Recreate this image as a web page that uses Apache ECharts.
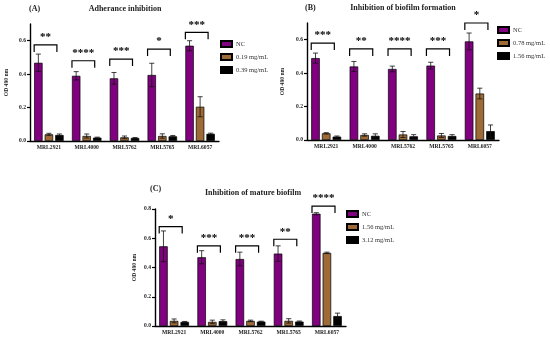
<!DOCTYPE html>
<html>
<head>
<meta charset="utf-8">
<script src="https://cdn.jsdelivr.net/npm/echarts@6/dist/echarts.min.js"></script>
<style>
html,body{margin:0;padding:0;background:#fff;}
#chart{width:550px;height:343px;}
</style>
</head>
<body>
<div id="chart"></div>
<script>
// ---- data ----
const categories = ['MRL2921', 'MRL4000', 'MRL5762', 'MRL5765', 'MRL6057'];

// Panel A: Adherance inhibition
const aNames = ['NC', '0.19 mg/mL', '0.39 mg/mL'];
const aNC = [0.468, 0.390, 0.375, 0.395, 0.570];
const aNCErr = [0.052, 0.025, 0.035, 0.070, 0.030];
const aLow = [0.040, 0.030, 0.022, 0.030, 0.205];
const aLowErr = [0.006, 0.012, 0.008, 0.013, 0.060];
const aHigh = [0.036, 0.020, 0.018, 0.028, 0.043];
const aHighErr = [0.006, 0.003, 0.003, 0.005, 0.004];
const aBracket = [0.575, 0.480, 0.490, 0.550, 0.650];
const aStars = ['**', '****', '***', '*', '***'];

// Panel B: Inhibition of biofilm formation
const bNames = ['NC', '0.78 mg/mL', '1.56 mg/mL'];
const bNC = [0.490, 0.440, 0.425, 0.445, 0.590];
const bNCErr = [0.030, 0.030, 0.017, 0.020, 0.050];
const bLow = [0.040, 0.030, 0.033, 0.027, 0.278];
const bLowErr = [0.004, 0.007, 0.018, 0.012, 0.032];
const bHigh = [0.020, 0.025, 0.022, 0.024, 0.053];
const bHighErr = [0.004, 0.012, 0.010, 0.008, 0.037];
const bBracket = [0.580, 0.545, 0.545, 0.545, 0.700];
const bStars = ['***', '**', '****', '***', '*'];

// Panel C: Inhibition of mature biofilm
const cNames = ['NC', '1.56 mg/mL', '3.12 mg/mL'];
const cNC = [0.545, 0.470, 0.458, 0.495, 0.768];
const cNCErr = [0.105, 0.045, 0.047, 0.053, 0.007];
const cLow = [0.035, 0.028, 0.035, 0.035, 0.500];
const cLowErr = [0.013, 0.012, 0.005, 0.015, 0.005];
const cHigh = [0.028, 0.033, 0.030, 0.030, 0.068];
const cHighErr = [0.003, 0.009, 0.003, 0.004, 0.020];
const cBracket = [0.680, 0.548, 0.548, 0.593, 0.820];
const cStars = ['*', '***', '***', '**', '****'];

const yTicksAB = [0, 0.2, 0.4, 0.6];
const yTicksC = [0, 0.2, 0.4, 0.6, 0.8];

// ---- styling ----
const FONT = 'Liberation Serif, Times New Roman, serif';
const colors = ['#800080', '#9E6A35', '#000000'];
const CAT_GAP = 0.22, BAR_GAP = 0.25;

const panels = [
  { id: 'A', names: aNames, vals: [aNC, aLow, aHigh], errs: [aNCErr, aLowErr, aHighErr],
    bracket: aBracket, stars: aStars, max: 0.7, ticks: yTicksAB,
    grid: { left: 30, top: 24, width: 189, height: 117 }, nameGap: 20,
    legend: { left: 220, top: 40 } },
  { id: 'B', names: bNames, vals: [bNC, bLow, bHigh], errs: [bNCErr, bLowErr, bHighErr],
    bracket: bBracket, stars: bStars, max: 0.7, ticks: yTicksAB,
    grid: { left: 307, top: 23, width: 192, height: 117 }, nameGap: 21,
    legend: { left: 497, top: 26 } },
  { id: 'C', names: cNames, vals: [cNC, cLow, cHigh], errs: [cNCErr, cLowErr, cHighErr],
    bracket: cBracket, stars: cStars, max: 0.8, ticks: yTicksC,
    grid: { left: 155, top: 209, width: 191, height: 117 }, nameGap: 17,
    legend: { left: 346, top: 210 } }
];

const grids = [], xAxes = [], yAxes = [], series = [], legends = [];

function barGeom(api) {
  const band = api.size([1, 0])[0];
  const w = band * (1 - CAT_GAP) / (3 + 2 * BAR_GAP);
  return { band, w };
}

panels.forEach((p, pi) => {
  grids.push(Object.assign({ containLabel: false }, p.grid));
  xAxes.push({
    type: 'category', gridIndex: pi, data: categories,
    axisLine: { lineStyle: { color: '#000', width: 1.4 } },
    axisTick: { alignWithLabel: true, length: 3, lineStyle: { color: '#000', width: 1.2 } },
    axisLabel: { fontFamily: FONT, fontWeight: 'bold', fontSize: 5.6, color: '#222', margin: 4 },
    splitLine: { show: false }
  });
  yAxes.push({
    type: 'value', gridIndex: pi, min: 0, max: p.max,
    name: 'OD 490 nm', nameLocation: 'middle', nameGap: p.nameGap, nameRotate: 90,
    nameTextStyle: { fontFamily: FONT, fontWeight: 'bold', fontSize: 5.6, color: '#222' },
    axisLine: { show: true, lineStyle: { color: '#000', width: 1.4 } },
    axisTick: { show: true, length: 3, customValues: p.ticks, lineStyle: { color: '#000', width: 1.2 } },
    axisLabel: { customValues: p.ticks, formatter: v => v.toFixed(1),
      fontFamily: FONT, fontWeight: 'bold', fontSize: 5.6, color: '#222', margin: 4 },
    splitLine: { show: false }
  });
  const legendData = [];
  p.names.forEach((nm, k) => {
    const sname = p.id + '|' + nm;
    legendData.push(sname);
    series.push({
      type: 'bar', name: sname, xAxisIndex: pi, yAxisIndex: pi,
      data: p.vals[k], barCategoryGap: (CAT_GAP * 100) + '%', barGap: (BAR_GAP * 100) + '%',
      itemStyle: { color: colors[k], borderColor: '#000', borderWidth: 0.7 },
      z: 2
    });
    // error bars
    series.push({
      type: 'custom', name: sname + ' err', xAxisIndex: pi, yAxisIndex: pi, z: 5, clip: false,
      data: p.vals[k].map((v, i) => [i, v, p.errs[k][i]]),
      renderItem: (params, api) => {
        const i = api.value(0), m = api.value(1), e = api.value(2);
        const g = barGeom(api);
        const off = (k - 1) * g.w * (1 + BAR_GAP);
        const t = api.coord([i, m + e]);
        const b = api.coord([i, Math.max(0, m - e)]);
        const x = t[0] + off;
        const cap = g.w * 0.3;
        const st = { stroke: '#111', lineWidth: 0.8, fill: null };
        return { type: 'group', children: [
          { type: 'line', shape: { x1: x, y1: t[1], x2: x, y2: b[1] }, style: st },
          { type: 'line', shape: { x1: x - cap, y1: t[1], x2: x + cap, y2: t[1] }, style: st },
          { type: 'line', shape: { x1: x - cap, y1: b[1], x2: x + cap, y2: b[1] }, style: st }
        ]};
      }
    });
  });
  // significance brackets
  series.push({
    type: 'custom', name: p.id + ' sig', xAxisIndex: pi, yAxisIndex: pi, z: 6, clip: false,
    data: p.bracket.map((v, i) => [i, v]),
    renderItem: (params, api) => {
      const i = api.value(0), lv = api.value(1);
      const g = barGeom(api);
      const c = api.coord([i, lv]);
      const x0 = c[0] - 1.75 * g.w, x1 = c[0] + 0.95 * g.w;
      const leg = 7;
      return { type: 'group', children: [
        { type: 'polyline', shape: { points: [[x0, c[1] + leg], [x0, c[1]], [x1, c[1]], [x1, c[1] + leg]] },
          style: { stroke: '#000', lineWidth: 1.2, fill: null } },
        { type: 'text', x: (x0 + x1) / 2, y: c[1] - 2,
          style: { text: p.stars[params.dataIndex], font: 'bold 11px ' + FONT, fill: '#000',
            align: 'center', verticalAlign: 'bottom' } }
      ]};
    }
  });
  legends.push(Object.assign({
    orient: 'vertical', data: legendData, icon: 'rect',
    itemWidth: 11, itemHeight: 6, itemGap: 5,
    formatter: n => n.split('|')[1],
    textStyle: { fontFamily: FONT, fontSize: 6.5, color: '#333', padding: [0, 0, 0, -1] },
    padding: 0, selectedMode: false
  }, p.legend));
});

const titles = [
  { text: '(A)', left: 29, top: 5 },
  { text: 'Adherance inhibition', left: 125, top: 5, textAlign: 'center' },
  { text: '(B)', left: 305, top: 4 },
  { text: 'Inhibition of biofilm formation', left: 403, top: 4, textAlign: 'center' },
  { text: '(C)', left: 150, top: 185 },
  { text: 'Inhibition of mature biofilm', left: 253, top: 189, textAlign: 'center' }
].map(t => Object.assign({ padding: 0, textStyle: { fontFamily: FONT, fontWeight: 'bold', fontSize: 8, color: '#222' } }, t));

const chart = echarts.init(document.getElementById('chart'), null, { renderer: 'canvas' });
chart.setOption({
  animation: false,
  backgroundColor: '#fff',
  title: titles,
  legend: legends,
  grid: grids,
  xAxis: xAxes,
  yAxis: yAxes,
  series: series
});
</script>
</body>
</html>
